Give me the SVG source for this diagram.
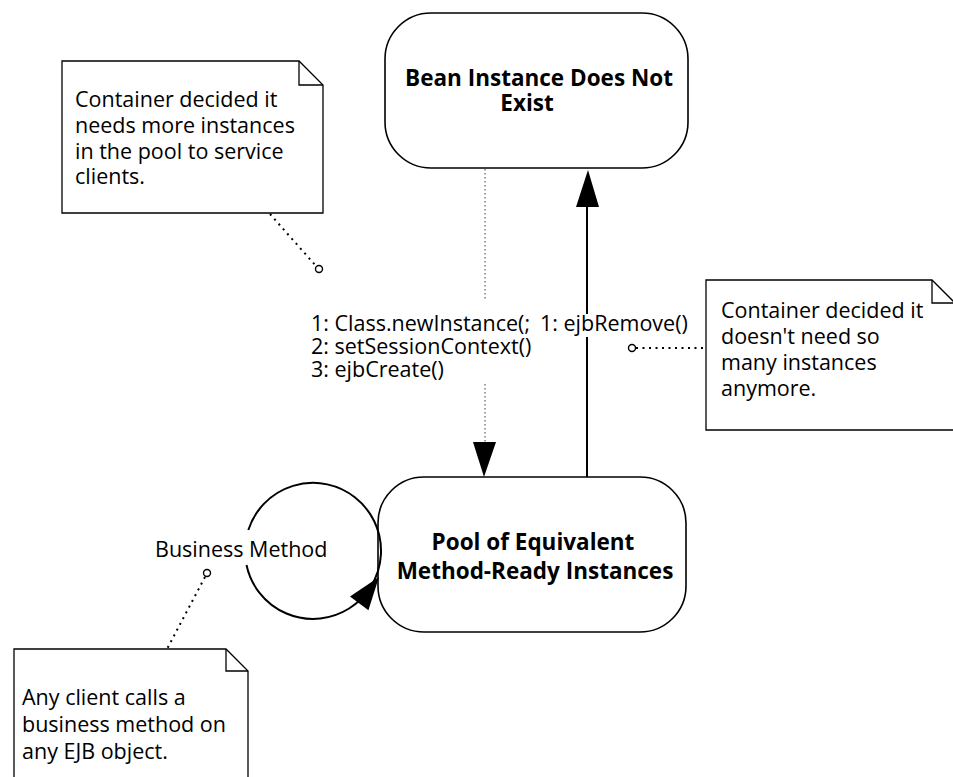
<svg xmlns="http://www.w3.org/2000/svg" width="953" height="777" viewBox="0 0 953 777">
  <style>
    text { font-family: "Open Sans", "Liberation Sans", sans-serif; fill: #000; }
    .state { fill: #fff; stroke: #000; stroke-width: 1.6; }
    .state-label { font-size: 22.5px; font-weight: 700; text-anchor: middle; }
    .note { fill: #fff; stroke: #000; stroke-width: 1.3; }
    .fold { fill: none; stroke: #000; stroke-width: 1.3; }
    .note-text { font-size: 21.5px; }
    .msg { font-size: 21.5px; }
    .solid { fill: none; stroke: #000; stroke-width: 2; }
    .create-flow { fill: none; stroke: #888; stroke-width: 1.6; stroke-dasharray: 1.5 2.5; }
    .anchor-link { fill: none; stroke: #000; stroke-width: 2; stroke-dasharray: 2 4.5; }
    .anchor { fill: #fff; stroke: #000; stroke-width: 1.4; }
    .head { fill: #000; }
  </style>

  <!-- state: bean does not exist -->
  <g id="state-does-not-exist">
    <rect class="state" x="385" y="13" width="303" height="155" rx="46" ry="46"/>
    <text class="state-label" x="539" y="86">Bean Instance Does Not</text>
    <text class="state-label" x="527" y="111">Exist</text>
  </g>

  <!-- state: method-ready pool -->
  <g id="state-method-ready-pool">
    <rect class="state" x="378" y="477" width="308" height="155" rx="46" ry="46"/>
    <text class="state-label" x="533" y="550">Pool of Equivalent</text>
    <text class="state-label" x="535" y="579">Method-Ready Instances</text>
  </g>

  <!-- note: pool growth -->
  <g id="note-create">
    <path class="note" d="M62,61 H299 L323,85 V213 H62 Z"/>
    <path class="fold" d="M299,61 V85 H323"/>
    <text class="note-text" x="75" y="107">Container decided it</text>
    <text class="note-text" x="75" y="133">needs more instances</text>
    <text class="note-text" x="75" y="159">in the pool to service</text>
    <text class="note-text" x="75" y="184">clients.</text>
  </g>

  <!-- note: pool shrink -->
  <g id="note-remove">
    <path class="note" d="M706,280 H932 L955,303 V430 H706 Z"/>
    <path class="fold" d="M932,280 V303 H955"/>
    <text class="note-text" x="721" y="318">Container decided it</text>
    <text class="note-text" x="721" y="344">doesn't need so</text>
    <text class="note-text" x="721" y="370">many instances</text>
    <text class="note-text" x="721" y="396">anymore.</text>
  </g>

  <!-- note: business call -->
  <g id="note-business">
    <path class="note" d="M14,649 H226 L248,671 V790 H14 Z"/>
    <path class="fold" d="M226,649 V671 H248"/>
    <text class="note-text" x="22" y="705">Any client calls a</text>
    <text class="note-text" x="22" y="732">business method on</text>
    <text class="note-text" x="22" y="759">any EJB object.</text>
  </g>

  <!-- transitions and note links -->
  <g id="connectors">
    <!-- creation: does-not-exist -> pool -->
    <path class="create-flow" d="M485,169 V300 M485,384 V444"/>
    <polygon class="head" points="473,442 496,442 484,477"/>
    <text class="msg" x="311" y="331">1: Class.newInstance(;</text>
    <text class="msg" x="311" y="354">2: setSessionContext()</text>
    <text class="msg" x="311" y="377">3: ejbCreate()</text>

    <!-- removal: pool -> does-not-exist -->
    <path class="solid" d="M587,477 V337 M587,314 V205"/>
    <polygon class="head" points="576,207 599,207 588,170"/>
    <text class="msg" x="540" y="331">1: ejbRemove()</text>

    <!-- business method self-loop on pool -->
    <path class="solid" d="M246.5,565 A68,68 0 1 0 248.3,530"/>
    <polygon class="head" points="379,577 368.4,610.3 350,596.5"/>
    <text class="msg" x="155" y="557">Business Method</text>

    <!-- note anchors -->
    <path class="anchor-link" d="M270,214 L316,266"/>
    <circle class="anchor" cx="319" cy="269" r="3.5"/>
    <path class="anchor-link" d="M636,348 H706"/>
    <circle class="anchor" cx="632" cy="348" r="3.5"/>
    <path class="anchor-link" d="M205,577 L167,649"/>
    <circle class="anchor" cx="207" cy="573" r="3.5"/>
  </g>
</svg>
